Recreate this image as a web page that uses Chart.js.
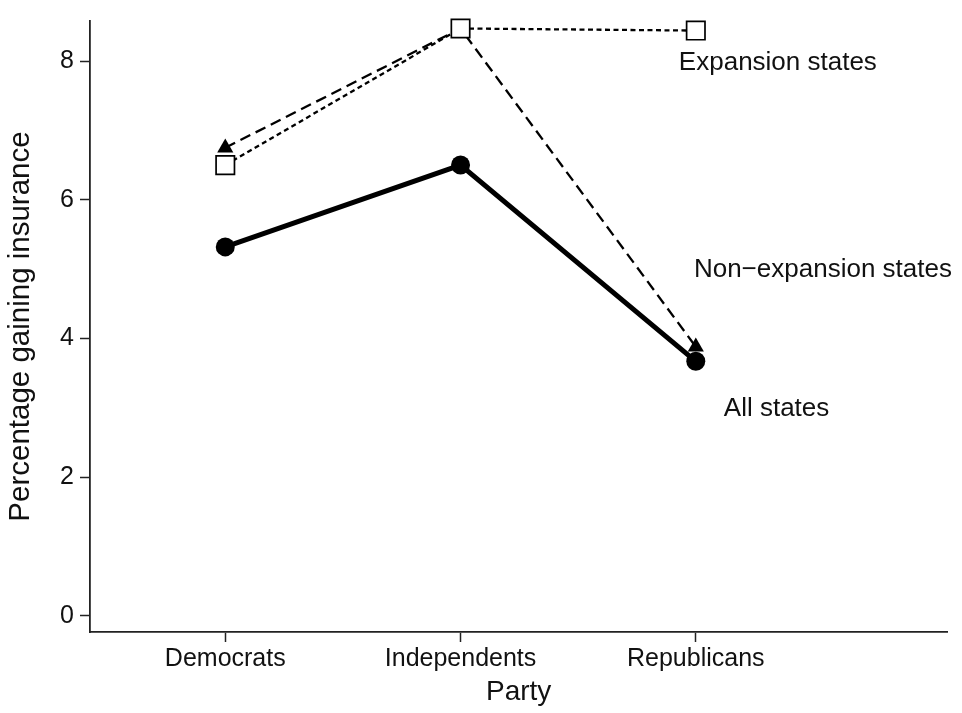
<!DOCTYPE html>
<html>
<head>
<meta charset="utf-8">
<script src="https://cdn.jsdelivr.net/npm/chart.js@4/dist/chart.umd.min.js"></script>
<style>
  html, body { margin: 0; padding: 0; background: #fff; }
  #wrap { width: 962px; height: 713px; }
</style>
</head>
<body>
<div id="wrap"><canvas id="chart" width="962" height="713"></canvas></div>
<script>
// Party groups placed at positions 1, 2, 3 on the x axis
const categories = ['Democrats', 'Independents', 'Republicans'];
const allStates = [5.32, 6.50, 3.67];
const expansionStates = [6.50, 8.47, 8.44];
const nonExpansionStates = [6.75, 8.47, 3.88];
const yTicks = [0, 2, 4, 6, 8];

const FONT = '"Liberation Sans", Arial, Helvetica, sans-serif';
const INK = '#111';

const toPoints = vals => vals.map((v, i) => ({ x: i + 1, y: v }));

// Line-end labels, placed in data coordinates
const seriesLabels = [
  { text: 'Expansion states', x: 2.928, y: 7.98 },
  { text: 'Non\u2212expansion states', x: 2.992, y: 4.99 },
  { text: 'All states', x: 3.119, y: 2.98 }
];

const labelPlugin = {
  id: 'seriesLabels',
  afterDatasetsDraw(chart) {
    const { ctx, scales } = chart;
    ctx.save();
    ctx.fillStyle = INK;
    ctx.font = '26px ' + FONT;
    ctx.textAlign = 'left';
    ctx.textBaseline = 'middle';
    seriesLabels.forEach(l => {
      ctx.fillText(l.text, scales.x.getPixelForValue(l.x), scales.y.getPixelForValue(l.y));
    });
    ctx.restore();
  }
};

new Chart(document.getElementById('chart'), {
  type: 'line',
  data: {
    datasets: [
      {
        label: 'All states',
        data: toPoints(allStates),
        borderColor: '#000',
        backgroundColor: '#000',
        borderWidth: 5,
        pointStyle: 'circle',
        pointRadius: 9.5,
        pointBorderWidth: 0,
        pointBackgroundColor: '#000',
        clip: false,
        order: 1
      },
      {
        label: 'Expansion states',
        data: toPoints(expansionStates),
        borderColor: '#000',
        borderWidth: 2.3,
        borderDash: [5, 3.5],
        pointStyle: 'rect',
        pointRadius: 13,
        pointBorderWidth: 1.7,
        pointBorderColor: '#000',
        pointBackgroundColor: '#fff',
        clip: false,
        order: 2
      },
      {
        label: 'Non-expansion states',
        data: toPoints(nonExpansionStates),
        borderColor: '#000',
        borderWidth: 2.3,
        borderDash: [11, 6],
        pointStyle: 'triangle',
        pointRadius: 9.3,
        pointBorderWidth: 0,
        pointBackgroundColor: '#000',
        clip: false,
        order: 3
      }
    ]
  },
  options: {
    responsive: false,
    animation: false,
    layout: { padding: { top: 18, right: 13, left: 0, bottom: 0 } },
    plugins: {
      legend: { display: false },
      tooltip: { enabled: false }
    },
    elements: { line: { tension: 0 } },
    scales: {
      x: {
        type: 'linear',
        min: 0.425,
        max: 4.069,
        afterBuildTicks: s => { s.ticks = categories.map((c, i) => ({ value: i + 1 })); },
        afterFit: s => { s.height = 81; },
        ticks: {
          callback: v => categories[v - 1] || '',
          color: INK,
          font: { family: FONT, size: 25 },
          padding: 2,
          maxRotation: 0,
          autoSkip: false
        },
        grid: {
          drawOnChartArea: false,
          drawTicks: true,
          tickLength: 10,
          tickColor: '#222',
          tickWidth: 1.5
        },
        border: { display: true, color: '#222', width: 1.8 },
        title: {
          display: true,
          text: 'Party',
          color: INK,
          font: { family: FONT, size: 28 },
          padding: { top: 0, bottom: 4 }
        }
      },
      y: {
        type: 'linear',
        min: -0.234,
        max: 8.578,
        afterBuildTicks: s => { s.ticks = yTicks.map(v => ({ value: v })); },
        afterFit: s => { s.width = 90; },
        ticks: {
          color: INK,
          font: { family: FONT, size: 25 },
          padding: 6
        },
        grid: {
          drawOnChartArea: false,
          drawTicks: true,
          tickLength: 10,
          tickColor: '#222',
          tickWidth: 1.5
        },
        border: { display: true, color: '#222', width: 1.8 },
        title: {
          display: true,
          text: 'Percentage gaining insurance',
          color: INK,
          font: { family: FONT, size: 29.5 },
          padding: { top: 3, bottom: 0 }
        }
      }
    }
  },
  plugins: [labelPlugin]
});
</script>
</body>
</html>
